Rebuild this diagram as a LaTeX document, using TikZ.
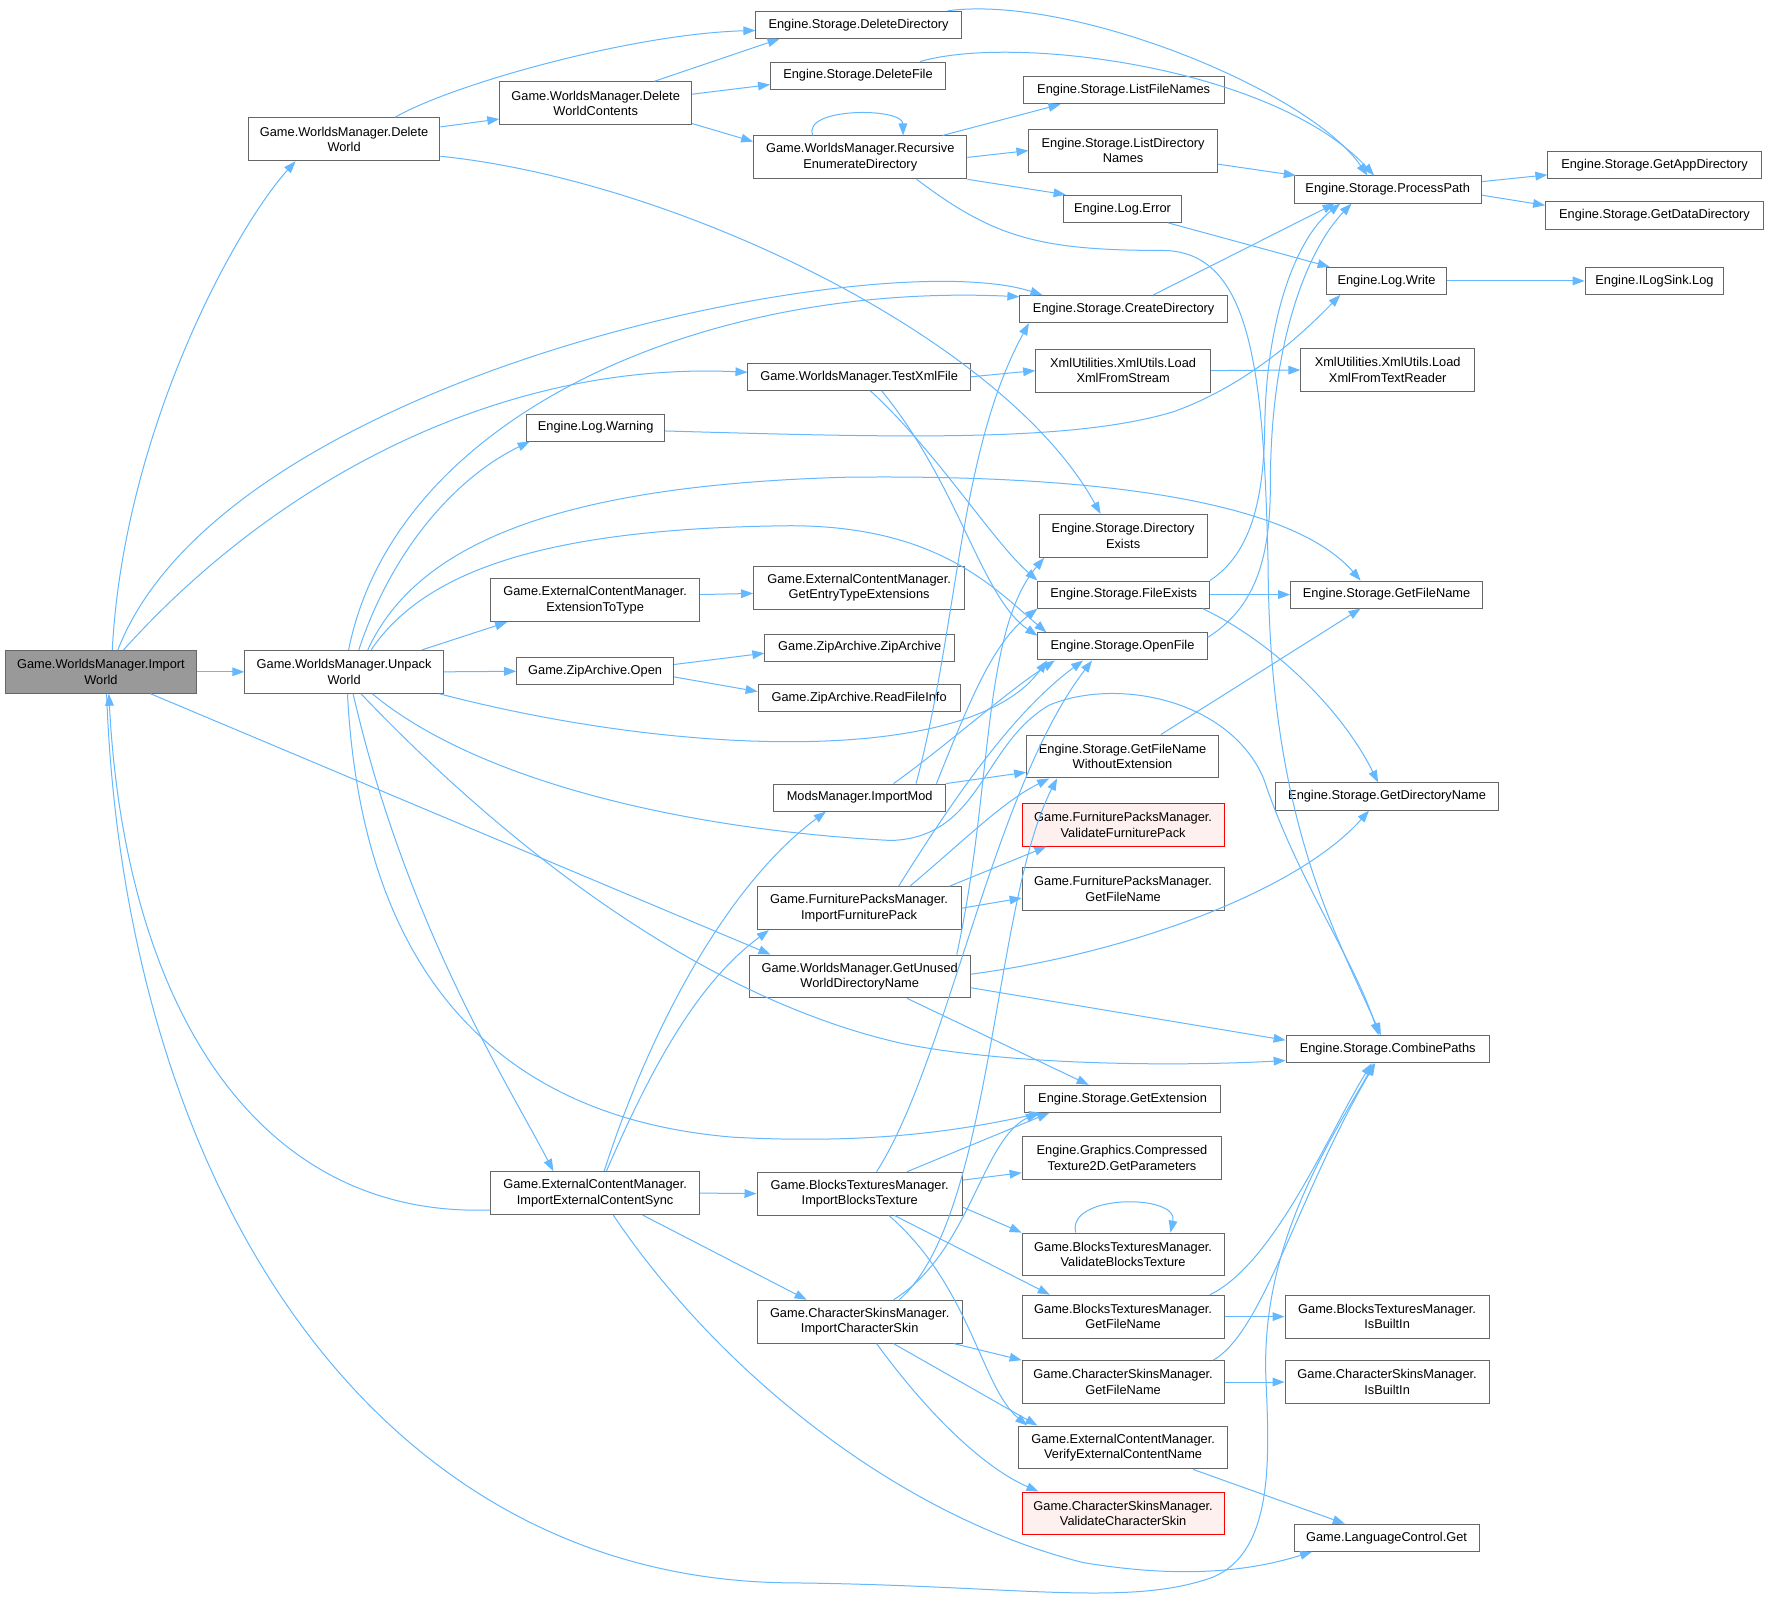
\documentclass[tikz,border=0pt]{standalone}
\usepackage{fontspec}
\setmainfont{Liberation Sans}
\usetikzlibrary{arrows.meta}
\definecolor{edgeblue}{HTML}{63B8FF}
\definecolor{boxgray}{HTML}{666666}
\definecolor{iwfill}{HTML}{999999}
\definecolor{redfill}{HTML}{FFF0F0}
\newdimen\upx
\upx=0.846pt

\begin{document}
\begin{tikzpicture}[x=0.846pt, y=-0.846pt,
  fn/.style={draw=boxgray, fill=white, line width=0.75pt, inner sep=0pt, align=center,
    font=\fontsize{9.6}{11.6}\selectfont, minimum height=24\upx},
  two/.style={minimum height=38\upx},
  w/.style={minimum width=#1\upx},
  hot/.style={draw=red, fill=redfill},
  e/.style={draw=edgeblue, line width=0.75pt, -{Triangle[length=9pt,width=6.5pt]}}]
\fill[white] (0,0) rectangle (1568,1428);
\useasboundingbox (0,0) rectangle (1568,1428);

\node[fn, w=169, two, fill=iwfill] (iw) at (89.5,595.5) {Game.WorldsManager.Import\\World};
\node[fn, w=170, two] (dw) at (305,123.5) {Game.WorldsManager.Delete\\World};
\node[fn, w=176, two] (uw) at (305,595.5) {Game.WorldsManager.Unpack\\World};
\node[fn, w=185, two] (iecs) at (527.5,1057.5) {Game.ExternalContentManager.\\ImportExternalContentSync};
\node[fn, w=170, two] (dwc) at (528,91.5) {Game.WorldsManager.Delete\\WorldContents};
\node[fn, w=197] (txf) at (761.5,334) {Game.WorldsManager.TestXmlFile};
\node[fn, w=122] (lwarn) at (528,379) {Engine.Log.Warning};
\node[fn, w=185, two] (ett) at (527.5,532) {Game.ExternalContentManager.\\ExtensionToType};
\node[fn, w=139] (zopen) at (527.5,595) {Game.ZipArchive.Open};
\node[fn, w=182] (ddir) at (761,22) {Engine.Storage.DeleteDirectory};
\node[fn, w=155] (dfile) at (760.5,67) {Engine.Storage.DeleteFile};
\node[fn, w=189, two] (red) at (762.5,139.5) {Game.WorldsManager.Recursive\\EnumerateDirectory};
\node[fn, w=187, two] (gete) at (761.5,521) {Game.ExternalContentManager.\\GetEntryTypeExtensions};
\node[fn, w=168] (zarc) at (762,574) {Game.ZipArchive.ZipArchive};
\node[fn, w=179] (rfi) at (761.5,619) {Game.ZipArchive.ReadFileInfo};
\node[fn, w=152] (imod) at (762,707) {ModsManager.ImportMod};
\node[fn, w=181, two] (ifp) at (761.5,805) {Game.FurniturePacksManager.\\ImportFurniturePack};
\node[fn, w=196, two] (guwdn) at (762,865.5) {Game.WorldsManager.GetUnused\\WorldDirectoryName};
\node[fn, w=182, two] (ibt) at (762,1058) {Game.BlocksTexturesManager.\\ImportBlocksTexture};
\node[fn, w=182, two] (ics) at (762,1171.5) {Game.CharacterSkinsManager.\\ImportCharacterSkin};
\node[fn, w=178] (lfn) at (996,80) {Engine.Storage.ListFileNames};
\node[fn, w=167, two] (ldn) at (995.5,133.5) {Engine.Storage.ListDirectory\\Names};
\node[fn, w=104] (lerr) at (995,185) {Engine.Log.Error};
\node[fn, w=184] (cdir) at (996,274) {Engine.Storage.CreateDirectory};
\node[fn, w=155, two] (lxs) at (995.5,328.5) {XmlUtilities.XmlUtils.Load\\XmlFromStream};
\node[fn, w=149, two] (dex) at (995.5,475) {Engine.Storage.Directory\\Exists};
\node[fn, w=152] (fex) at (996,527) {Engine.Storage.FileExists};
\node[fn, w=150] (ofile) at (995,573) {Engine.Storage.OpenFile};
\node[fn, w=170, two] (gfnwe) at (995,670.5) {Engine.Storage.GetFileName\\WithoutExtension};
\node[fn, w=179, two, hot] (vfp) at (995.5,731) {Game.FurniturePacksManager.\\ValidateFurniturePack};
\node[fn, w=179, two] (fpgfn) at (995.5,788) {Game.FurniturePacksManager.\\GetFileName};
\node[fn, w=174] (gext) at (995,974) {Engine.Storage.GetExtension};
\node[fn, w=177, two] (gpar) at (994.5,1026.5) {Engine.Graphics.Compressed\\Texture2D.GetParameters};
\node[fn, w=179, two] (vbt) at (995.5,1112) {Game.BlocksTexturesManager.\\ValidateBlocksTexture};
\node[fn, w=179, two] (btgfn) at (995.5,1167) {Game.BlocksTexturesManager.\\GetFileName};
\node[fn, w=179, two] (csgfn) at (995.5,1225) {Game.CharacterSkinsManager.\\GetFileName};
\node[fn, w=185, two] (vecn) at (995.5,1283) {Game.ExternalContentManager.\\VerifyExternalContentName};
\node[fn, w=179, two, hot] (vcs) at (995.5,1341.5) {Game.CharacterSkinsManager.\\ValidateCharacterSkin};
\node[fn, w=166] (ppath) at (1230,168) {Engine.Storage.ProcessPath};
\node[fn, w=106] (lwrite) at (1229,249) {Engine.Log.Write};
\node[fn, w=154, two] (lxtr) at (1230,328) {XmlUtilities.XmlUtils.Load\\XmlFromTextReader};
\node[fn, w=170] (gfn) at (1229,527) {Engine.Storage.GetFileName};
\node[fn, w=197] (gdn) at (1229.5,706) {Engine.Storage.GetDirectoryName};
\node[fn, w=180] (cpaths) at (1230,930) {Engine.Storage.CombinePaths};
\node[fn, w=181, two] (btib) at (1229.5,1167) {Game.BlocksTexturesManager.\\IsBuiltIn};
\node[fn, w=181, two] (csib) at (1229.5,1225) {Game.CharacterSkinsManager.\\IsBuiltIn};
\node[fn, w=164] (lcget) at (1229,1363) {Game.LanguageControl.Get};
\node[fn, w=189] (gapp) at (1466.5,146) {Engine.Storage.GetAppDirectory};
\node[fn, w=193] (gdata) at (1466.5,191) {Engine.Storage.GetDataDirectory};
\node[fn, w=123] (ilog) at (1466.5,249) {Engine.ILogSink.Log};

\draw[e] ([xshift=10\upx]iw.north) .. controls (110,380) and (210,200) .. ([xshift=-43\upx]dw.south);
\draw[e] ([xshift=15\upx]iw.north) .. controls (200,330) and (780,215) .. ([xshift=-72\upx]cdir.north);
\draw[e] ([xshift=20\upx]iw.north) .. controls (250,420) and (450,320) .. ([yshift=4\upx]txf.west);
\draw[e] (iw.east) -- (uw.west);
\draw[e] ([xshift=44\upx]iw.south) -- ([xshift=-79\upx]guwdn.north);
\draw[e] ([xshift=5\upx]iw.south) .. controls (110,1050) and (330,1400) .. (700,1403)
  .. controls (900,1405) and (1000,1425) .. (1075,1398)
  .. controls (1130,1375) and (1125,1290) .. (1122,1220)
  .. controls (1118,1100) and (1180,1010) .. ([xshift=-12\upx]cpaths.south);
\draw[e] ([yshift=-15\upx]iecs.west) .. controls (220,1080) and (110,880) .. ([xshift=7\upx]iw.south);

\draw[e] ([xshift=45\upx]dw.north) .. controls (400,75) and (560,30) .. ([yshift=-5\upx]ddir.west);
\draw[e] ([yshift=11\upx]dw.east) -- ([yshift=-14\upx]dwc.west);
\draw[e] ([yshift=-15\upx]dw.east) .. controls (600,160) and (890,300) .. ([xshift=-20\upx]dex.north);
\draw[e] ([xshift=52\upx]dwc.north) -- ([xshift=-70\upx]ddir.south);
\draw[e] ([yshift=8\upx]dwc.east) -- ([yshift=-8\upx]dfile.west);
\draw[e] ([yshift=-18\upx]dwc.east) -- ([yshift=14\upx]red.west);
\draw[e] ([xshift=-42\upx]red.north) .. controls (710,95) and (800,95) .. ([xshift=38\upx]red.north);
\draw[e] ([xshift=73\upx]red.north) -- ([xshift=-56\upx]lfn.south);
\draw[e] (red.east) -- (ldn.west);
\draw[e] (red.south east) -- ([xshift=2\upx]lerr.north west);
\draw[e] ([xshift=50\upx]red.south) .. controls (880,210) and (920,222) .. (1030,222)
  .. controls (1110,222) and (1120,330) .. (1124,500)
  .. controls (1125,720) and (1180,820) .. ([xshift=-6\upx]cpaths.north);

\draw[e] ([xshift=79\upx]ddir.north) .. controls (950,-5) and (1160,80) .. ([xshift=-18\upx]ppath.north);
\draw[e] ([xshift=55\upx]dfile.north) .. controls (900,30) and (1130,60) .. ([xshift=-12\upx]ppath.north);
\draw[e] ([yshift=-12\upx]ldn.east) -- ([xshift=2\upx]ppath.north west);
\draw[e] ([xshift=26\upx]cdir.north) -- ([xshift=-47\upx]ppath.south);
\draw[e] (fex.north east) .. controls (1110,490) and (1120,440) .. (1121,380)
  .. controls (1122,280) and (1150,210) .. ([xshift=-42\upx]ppath.south);
\draw[e] ([yshift=8\upx]ofile.east) .. controls (1110,540) and (1126,500) .. (1126,430)
  .. controls (1126,300) and (1160,220) .. ([xshift=-32\upx]ppath.south);
\draw[e] ([yshift=7\upx]ppath.east) -- ([yshift=-9\upx]gapp.west);
\draw[e] ([yshift=-5\upx]ppath.east) -- ([yshift=9\upx]gdata.west);
\draw[e] ([xshift=40\upx]lerr.south) -- ([xshift=3\upx]lwrite.north west);
\draw[e] ([yshift=-3\upx]lwarn.east) .. controls (800,388) and (950,392) .. (1040,365)
  .. controls (1110,340) and (1160,290) .. ([xshift=-41\upx]lwrite.south);
\draw[e] (lwrite.east) -- (ilog.west);
\draw[e] (txf.east) -- (lxs.west);
\draw[e] ([xshift=10\upx]txf.south) .. controls (830,400) and (880,480) .. (fex.north west);
\draw[e] ([xshift=20\upx]txf.south) .. controls (850,430) and (870,530) .. ([yshift=-3\upx]ofile.north west);
\draw[e] (lxs.east) -- (lxtr.west);

\draw[e] ([xshift=4\upx]uw.north) .. controls (350,370) and (620,250) .. ([yshift=11\upx]cdir.west);
\draw[e] ([xshift=13\upx]uw.north) .. controls (350,480) and (410,420) .. ([xshift=3\upx]lwarn.south west);
\draw[e] ([xshift=21\upx]uw.north) .. controls (370,480) and (500,430) .. (750,423)
  .. controls (1000,420) and (1150,450) .. ([xshift=-23\upx]gfn.north);
\draw[e] ([xshift=24\upx]uw.north) .. controls (380,500) and (500,468) .. (700,466)
  .. controls (830,466) and (880,520) .. ([xshift=8\upx]ofile.north west);
\draw[e] ([xshift=69\upx]uw.north) -- ([xshift=-78\upx]ett.south);
\draw[e] (uw.east) -- (zopen.west);
\draw[e] ([xshift=-4\upx]uw.south east) .. controls (600,670) and (860,680) .. ([xshift=-67\upx]ofile.south);
\draw[e] ([xshift=25\upx]uw.south) .. controls (420,690) and (600,735) .. (790,745)
  .. controls (870,742) and (870,660) .. (930,625)
  .. controls (990,600) and (1090,620) .. (1120,690)
  .. controls (1150,780) and (1200,850) .. ([xshift=-8\upx]cpaths.north);
\draw[e] ([xshift=15\upx]uw.south) .. controls (420,720) and (600,880) .. (800,925)
  .. controls (900,945) and (1050,945) .. ([yshift=-10\upx]cpaths.west);
\draw[e] ([xshift=3\upx]uw.south) .. controls (320,850) and (430,990) .. (650,1008)
  .. controls (780,1015) and (860,1000) .. ([xshift=-72\upx]gext.south);
\draw[e] ([xshift=8\upx]uw.south) .. controls (360,820) and (450,960) .. ([xshift=-37\upx]iecs.north);
\draw[e] ([yshift=5\upx]ett.east) -- ([yshift=-5\upx]gete.west);
\draw[e] ([yshift=6\upx]zopen.east) -- ([yshift=-5\upx]zarc.west);
\draw[e] ([yshift=-5\upx]zopen.east) -- ([yshift=6\upx]rfi.west);

\draw[e] ([xshift=8\upx]iecs.north) .. controls (580,900) and (650,780) .. ([xshift=-30\upx]imod.south);
\draw[e] ([xshift=10\upx]iecs.north) .. controls (580,940) and (620,870) .. ([xshift=-80\upx]ifp.south);
\draw[e] (iecs.east) -- (ibt.west);
\draw[e] ([xshift=42\upx]iecs.south) -- ([xshift=-47\upx]ics.north);
\draw[e] ([xshift=16\upx]iecs.south) .. controls (640,1220) and (800,1345) .. (960,1385)
  .. controls (1050,1400) and (1110,1392) .. ([xshift=-66\upx]lcget.south);

\draw[e] ([xshift=50\upx]imod.north) .. controls (850,550) and (850,400) .. ([xshift=-84\upx]cdir.south);
\draw[e] ([xshift=68\upx]imod.north) .. controls (860,620) and (880,570) .. (fex.south west);
\draw[e] ([xshift=30\upx]imod.north) .. controls (840,660) and (890,615) .. ([xshift=-60\upx]ofile.south);
\draw[e] (imod.north east) -- ([yshift=-14\upx]gfnwe.west);
\draw[e] ([xshift=35\upx]ifp.north) .. controls (850,700) and (900,630) .. ([xshift=-35\upx]ofile.south);
\draw[e] ([xshift=45\upx]ifp.north) .. controls (860,740) and (890,710) .. ([xshift=-65\upx]gfnwe.south);
\draw[e] ([xshift=80\upx]ifp.north) -- ([xshift=-68\upx]vfp.south);
\draw[e] (ifp.east) -- ([yshift=-8\upx]fpgfn.west);
\draw[e] ([xshift=86\upx]guwdn.north) .. controls (880,700) and (870,560) .. ([xshift=-70\upx]dex.south);
\draw[e] ([yshift=2\upx]guwdn.east) .. controls (1000,845) and (1150,790) .. ([xshift=-16\upx]gdn.south);
\draw[e] ([yshift=-10\upx]guwdn.east) -- ([yshift=8\upx]cpaths.west);
\draw[e] ([xshift=42\upx]guwdn.south) -- ([xshift=-30\upx]gext.north);

\draw[e] ([xshift=15\upx]ibt.north) .. controls (840,940) and (880,700) .. ([xshift=-27\upx]ofile.south);
\draw[e] ([xshift=42\upx]ibt.north) -- ([xshift=-65\upx]gext.south);
\draw[e] ([yshift=12\upx]ibt.east) -- ([yshift=-13\upx]gpar.west);
\draw[e] ([yshift=-12\upx]ibt.east) -- (vbt.north west);
\draw[e] ([xshift=31\upx]ibt.south) -- ([xshift=-65\upx]btgfn.north);
\draw[e] ([xshift=26\upx]ibt.south) .. controls (860,1140) and (870,1230) .. ([xshift=-85\upx]vecn.north);
\draw[e] ([xshift=30\upx]ics.north) .. controls (860,1110) and (870,1010) .. ([xshift=-75\upx]gext.south);
\draw[e] ([xshift=35\upx]ics.north) .. controls (880,1080) and (880,800) .. ([xshift=-58\upx]gfnwe.south);
\draw[e] ([xshift=-8\upx]ics.south east) -- (csgfn.north west);
\draw[e] ([xshift=30\upx]ics.south) -- ([xshift=-76\upx]vecn.north);
\draw[e] ([xshift=15\upx]ics.south) .. controls (820,1250) and (870,1300) .. ([xshift=-75\upx]vcs.north);
\draw[e] ([xshift=-42\upx]vbt.north) .. controls (945,1058) and (1045,1058) .. ([xshift=42\upx]vbt.north);
\draw[e] ([xshift=77\upx]btgfn.north) .. controls (1130,1120) and (1180,1000) .. ([xshift=-14\upx]cpaths.south);
\draw[e] (btgfn.east) -- (btib.west);
\draw[e] ([xshift=80\upx]csgfn.north) .. controls (1120,1180) and (1150,1060) .. ([xshift=-11\upx]cpaths.south);
\draw[e] (csgfn.east) -- (csib.west);
\draw[e] ([xshift=62\upx]vecn.south) -- ([xshift=-37\upx]lcget.north);
\draw[e] (fex.east) -- (gfn.west);
\draw[e] ([xshift=70\upx]fex.south) .. controls (1130,570) and (1190,630) .. ([xshift=-8\upx]gdn.north);
\draw[e] ([xshift=34\upx]gfnwe.north) -- ([xshift=-23\upx]gfn.south);
\end{tikzpicture}
\end{document}
